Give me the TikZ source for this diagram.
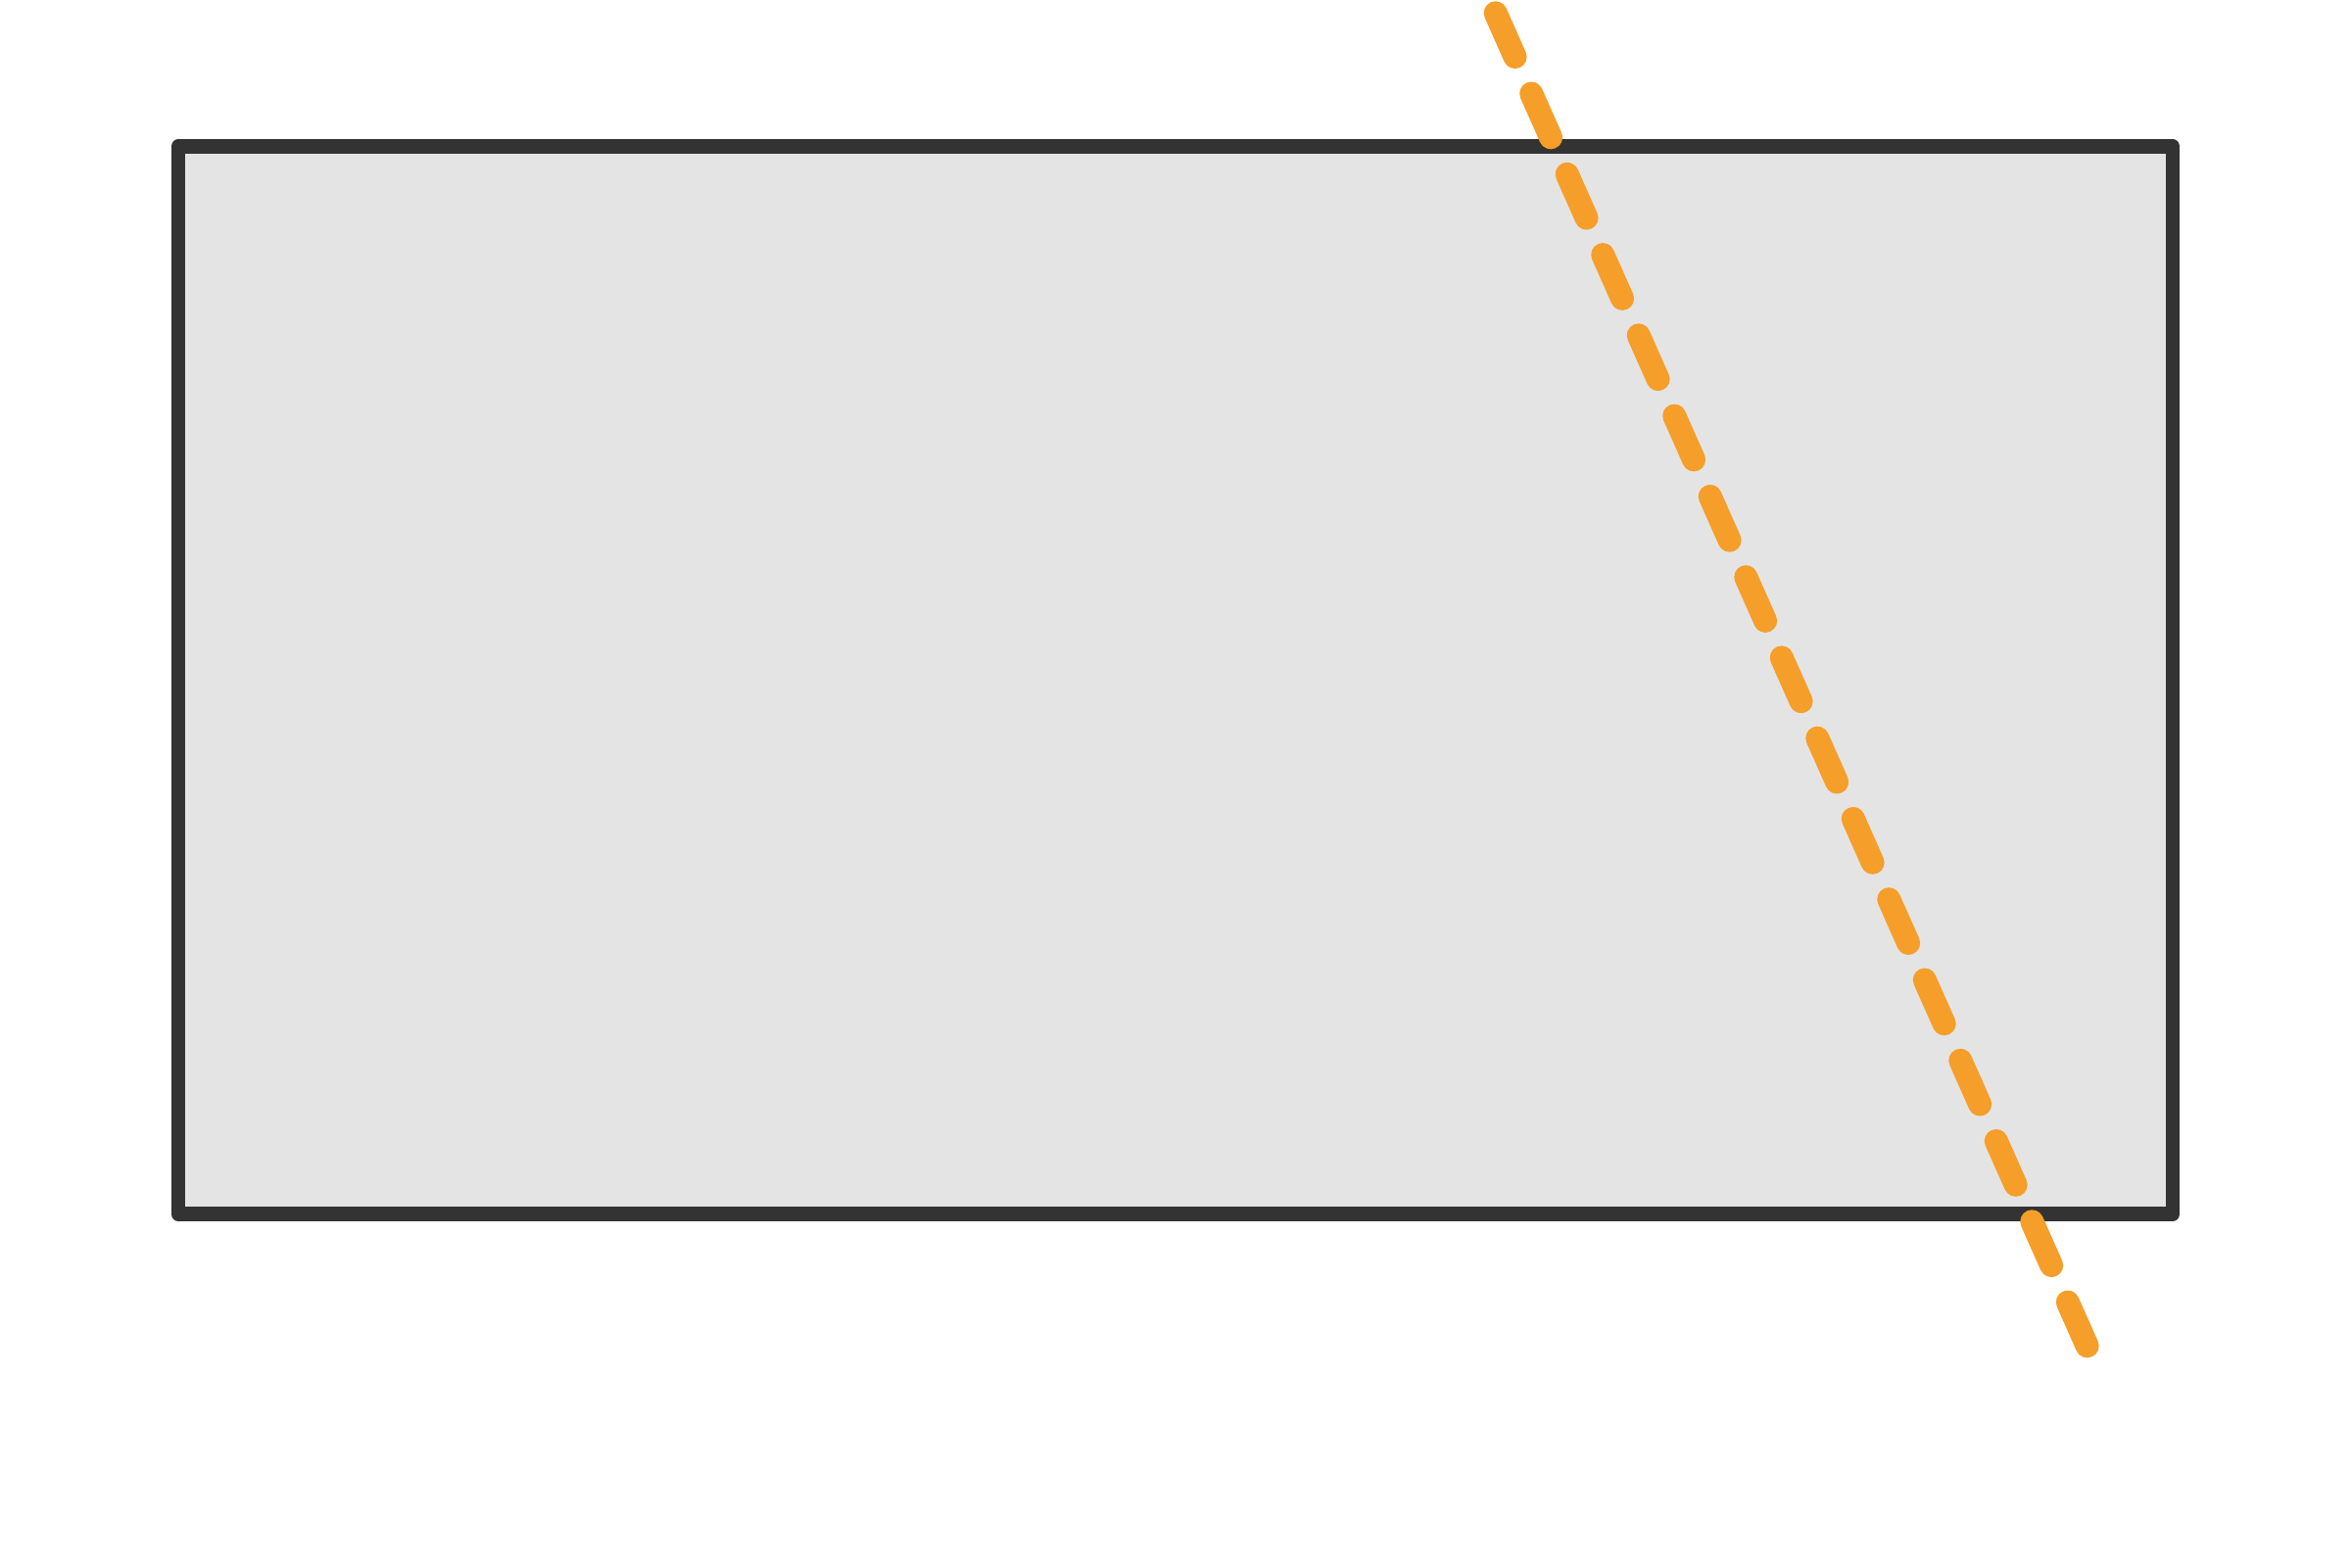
\documentclass[tikz,border=0pt]{standalone}
\definecolor{boxfill}{RGB}{228,228,228}
\definecolor{boxline}{RGB}{51,51,51}
\definecolor{cutline}{RGB}{246,158,42}
\tikzset{
  panel/.style={draw=boxline, fill=boxfill, line width=0.145cm, line join=round},
  cutstyle/.style={draw=cutline, line width=0.24cm, line cap=round, dash pattern=on 0.49cm off 0.41cm}
}
\begin{document}
\begin{tikzpicture}
\useasboundingbox (0,0) rectangle (24,16);
\coordinate (bl) at (1.82,3.603);
\coordinate (tr) at (22.18,14.505);
\draw[panel] (bl) rectangle (tr);
\coordinate (cutA) at (15.267,15.867);
\coordinate (cutB) at (21.317,2.233);
\draw[cutstyle] (cutA) -- (cutB);
\end{tikzpicture}
\end{document}
